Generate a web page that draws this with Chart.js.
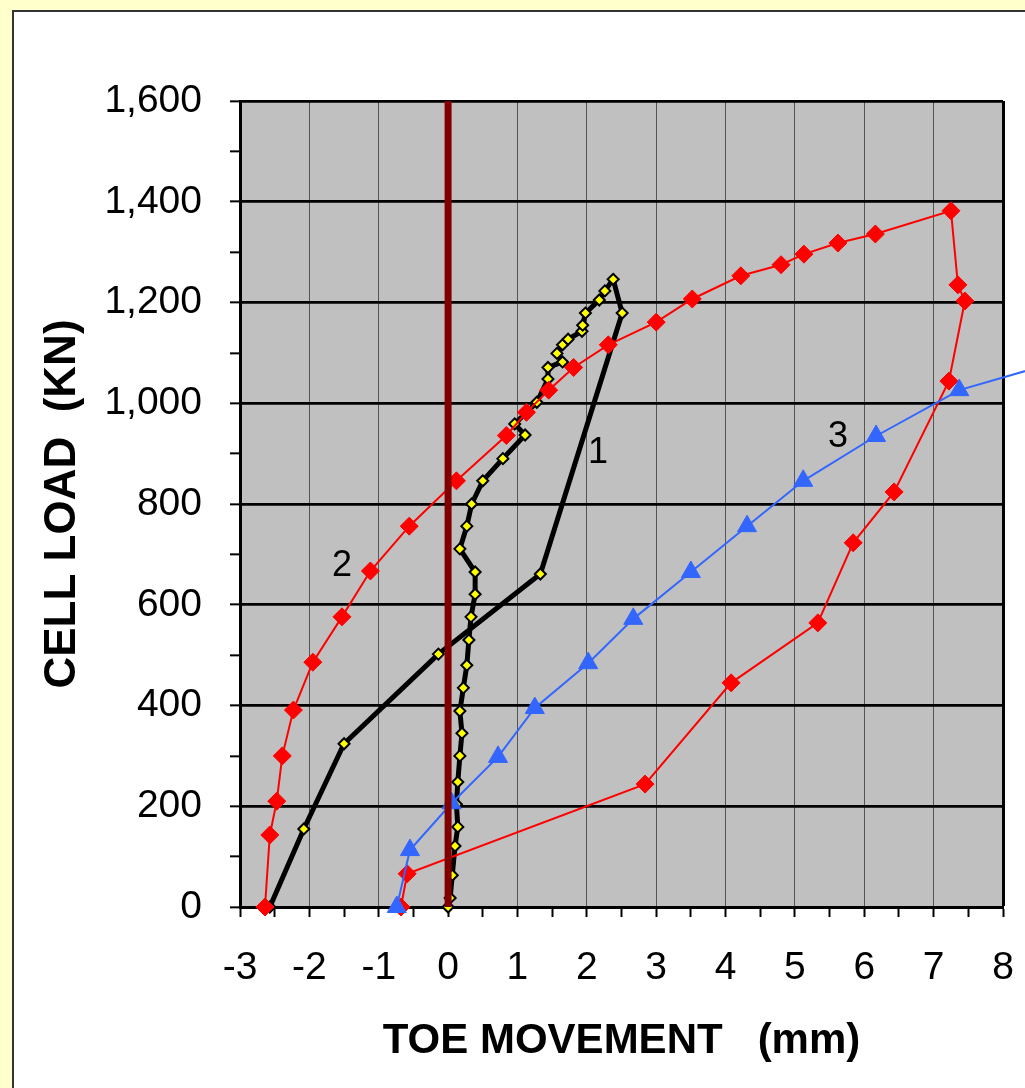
<!DOCTYPE html>
<html>
<head>
<meta charset="utf-8">
<script src="https://cdn.jsdelivr.net/npm/chart.js@4.4.1/dist/chart.umd.min.js"></script>
<style>
  html, body { margin: 0; padding: 0; background: #FFFFCC; overflow: hidden; }
  #marco { position: absolute; left: 12px; top: 10px; width: 1100px; height: 1100px; background: #fff; border-left: 2px solid #333; border-top: 2px solid #333; }
  #Grafico { position: absolute; left: 0; top: 0; }
</style>
</head>
<body>
<div id="marco"></div>
<canvas id="Grafico" width="1025" height="1088"></canvas>
<script>
//Ensayo 1 (linea negra, marcadores amarillos)
const ensayo1X = [0, 0.03, 0.06, 0.10, 0.14, 0.12, 0.14, 0.17, 0.20, 0.17, 0.22, 0.27, 0.30, 0.33, 0.39, 0.39, 0.17, 0.27, 0.34, 0.50, 0.79, 1.11, 0.96, 1.28, 1.44, 1.44, 1.65, 1.57, 1.65, 1.73, 1.93, 1.94, 1.98, 2.18, 2.26, 2.38, 2.51, 1.33, -0.14, -1.50, -2.08, -2.57];
const ensayo1Y = [0, 18, 63, 121, 159, 204, 248, 300, 345, 389, 435, 480, 530, 576, 621, 665, 711, 756, 800, 846, 890, 937, 959, 1002, 1048, 1071, 1082, 1099, 1116, 1127, 1143, 1155, 1179, 1205, 1223, 1246, 1179, 661, 502, 324, 155, 0];

//Ensayo 2 (rojo, rombos)
const ensayo2X = [-2.64, -2.57, -2.47, -2.39, -2.23, -1.95, -1.53, -1.12, -0.56, 0.12, 0.84, 1.13, 1.45, 1.81, 2.31, 3.00, 3.52, 4.22, 4.80, 5.13, 5.62, 6.16, 7.25, 7.35, 7.45, 7.22, 6.43, 5.84, 5.33, 4.08, 2.84, -0.59, -0.68];
const ensayo2Y = [0, 143, 210, 300, 391, 486, 576, 667, 756, 846, 936, 982, 1026, 1071, 1116, 1161, 1207, 1253, 1275, 1296, 1318, 1336, 1382, 1235, 1203, 1044, 824, 723, 564, 445, 244, 66, 0];

//Ensayo 3 (azul, triangulos)
const ensayo3X = [-0.74, -0.55, 0.05, 0.72, 1.25, 2.02, 2.67, 3.50, 4.31, 5.12, 6.17, 7.37, 9.0];
const ensayo3Y = [0, 113, 206, 298, 395, 484, 572, 665, 756, 846, 935, 1026, 1091];

//Linea de referencia en cero
const ceroX = [0, 0];
const ceroY = [0, 1600];

//Etiquetas de las curvas
const etiquetas = ['1', '2', '3'];
const etiquetasX = [2.16, -1.53, 5.62];
const etiquetasY = [901, 677, 933];

function puntos(xs, ys) {
  return xs.map((x, i) => ({ x: x, y: ys[i] }));
}

Chart.defaults.font.family = '"Liberation Sans", Arial, sans-serif';
Chart.defaults.color = '#000';

//Fondo gris del area de trazado
const fondo = {
  id: 'fondo',
  beforeDraw(chart) {
    const a = chart.chartArea;
    const ctx = chart.ctx;
    ctx.save();
    ctx.fillStyle = '#C0C0C0';
    ctx.fillRect(a.left, a.top, a.right - a.left, a.bottom - a.top);
    ctx.restore();
  }
};

//Numeros de cada curva
const rotulos = {
  id: 'rotulos',
  afterDatasetsDraw(chart) {
    const ctx = chart.ctx;
    ctx.save();
    ctx.font = '36px "Liberation Sans", Arial, sans-serif';
    ctx.fillStyle = '#000';
    ctx.textAlign = 'center';
    ctx.textBaseline = 'middle';
    etiquetas.forEach((t, i) => {
      ctx.fillText(t, chart.scales.x.getPixelForValue(etiquetasX[i]), chart.scales.y.getPixelForValue(etiquetasY[i]));
    });
    ctx.restore();
  }
};

const contexto = document.getElementById('Grafico').getContext('2d');
const Grafico = new Chart(contexto, {
  type: 'line',
  data: {
    datasets: [
      {
        label: 'cero',
        data: puntos(ceroX, ceroY),
        borderColor: '#800000',
        borderWidth: 7,
        pointRadius: 0,
        clip: false,
        order: 0
      },
      {
        label: '3',
        data: puntos(ensayo3X, ensayo3Y),
        borderColor: '#3366FF',
        backgroundColor: '#3366FF',
        borderWidth: 2,
        pointStyle: 'triangle',
        pointRadius: 11,
        pointBorderWidth: 1,
        clip: false,
        order: 1
      },
      {
        label: '2',
        data: puntos(ensayo2X, ensayo2Y),
        borderColor: '#FF0000',
        backgroundColor: '#FF0000',
        borderWidth: 2,
        pointStyle: 'rectRot',
        pointRadius: 9,
        pointBorderWidth: 1,
        clip: false,
        order: 2
      },
      {
        label: '1',
        data: puntos(ensayo1X, ensayo1Y),
        borderColor: '#000000',
        backgroundColor: '#FFFF00',
        borderWidth: 5,
        pointStyle: 'rectRot',
        pointRadius: 5.5,
        pointBorderColor: '#000000',
        pointBorderWidth: 2,
        clip: false,
        order: 3
      }
    ]
  },
  options: {
    responsive: false,
    animation: false,
    layout: { padding: { left: 0, top: 101, right: 22, bottom: 0 } },
    plugins: {
      legend: { display: false },
      tooltip: { enabled: false }
    },
    elements: { line: { tension: 0 } },
    scales: {
      x: {
        type: 'linear',
        min: -3,
        max: 8,
        afterFit: s => { s.height = 181; s.paddingLeft = 0; s.paddingRight = 0; },
        ticks: {
          stepSize: 0.5,
          autoSkip: false,
          maxRotation: 0,
          padding: 28,
          font: { size: 39 },
          color: '#000',
          callback: v => Number.isInteger(v) ? String(v) : ''
        },
        grid: {
          color: c => (c.tick && Number.isInteger(c.tick.value)) ? (c.tick.value === 8 ? '#000' : '#555') : 'rgba(0,0,0,0)',
          lineWidth: c => (c.tick && c.tick.value === 8) ? 3 : 1,
          tickColor: '#000',
          tickLength: 10,
          tickWidth: 2
        },
        border: { color: '#000', width: 3 },
        title: {
          display: true,
          text: 'TOE MOVEMENT   (mm)',
          font: { size: 42, weight: 'bold' },
          color: '#000',
          padding: { top: 0, bottom: 21 }
        }
      },
      y: {
        type: 'linear',
        min: 0,
        max: 1600,
        afterFit: s => { s.width = 240; },
        ticks: {
          stepSize: 100,
          autoSkip: false,
          padding: 28,
          font: { size: 39 },
          color: '#000',
          callback: v => v % 200 === 0 ? v.toLocaleString('en-US') : ''
        },
        grid: {
          color: c => (c.tick && c.tick.value % 200 === 0) ? '#000' : 'rgba(0,0,0,0)',
          lineWidth: 2.7,
          tickColor: '#000',
          tickLength: 10,
          tickWidth: 2
        },
        border: { color: '#000', width: 3 },
        title: {
          display: true,
          text: 'CELL LOAD  (KN)',
          font: { size: 44, weight: 'bold' },
          color: '#000',
          padding: { top: 36, bottom: 0 }
        }
      }
    }
  },
  plugins: [fondo, rotulos]
});
</script>
</body>
</html>
